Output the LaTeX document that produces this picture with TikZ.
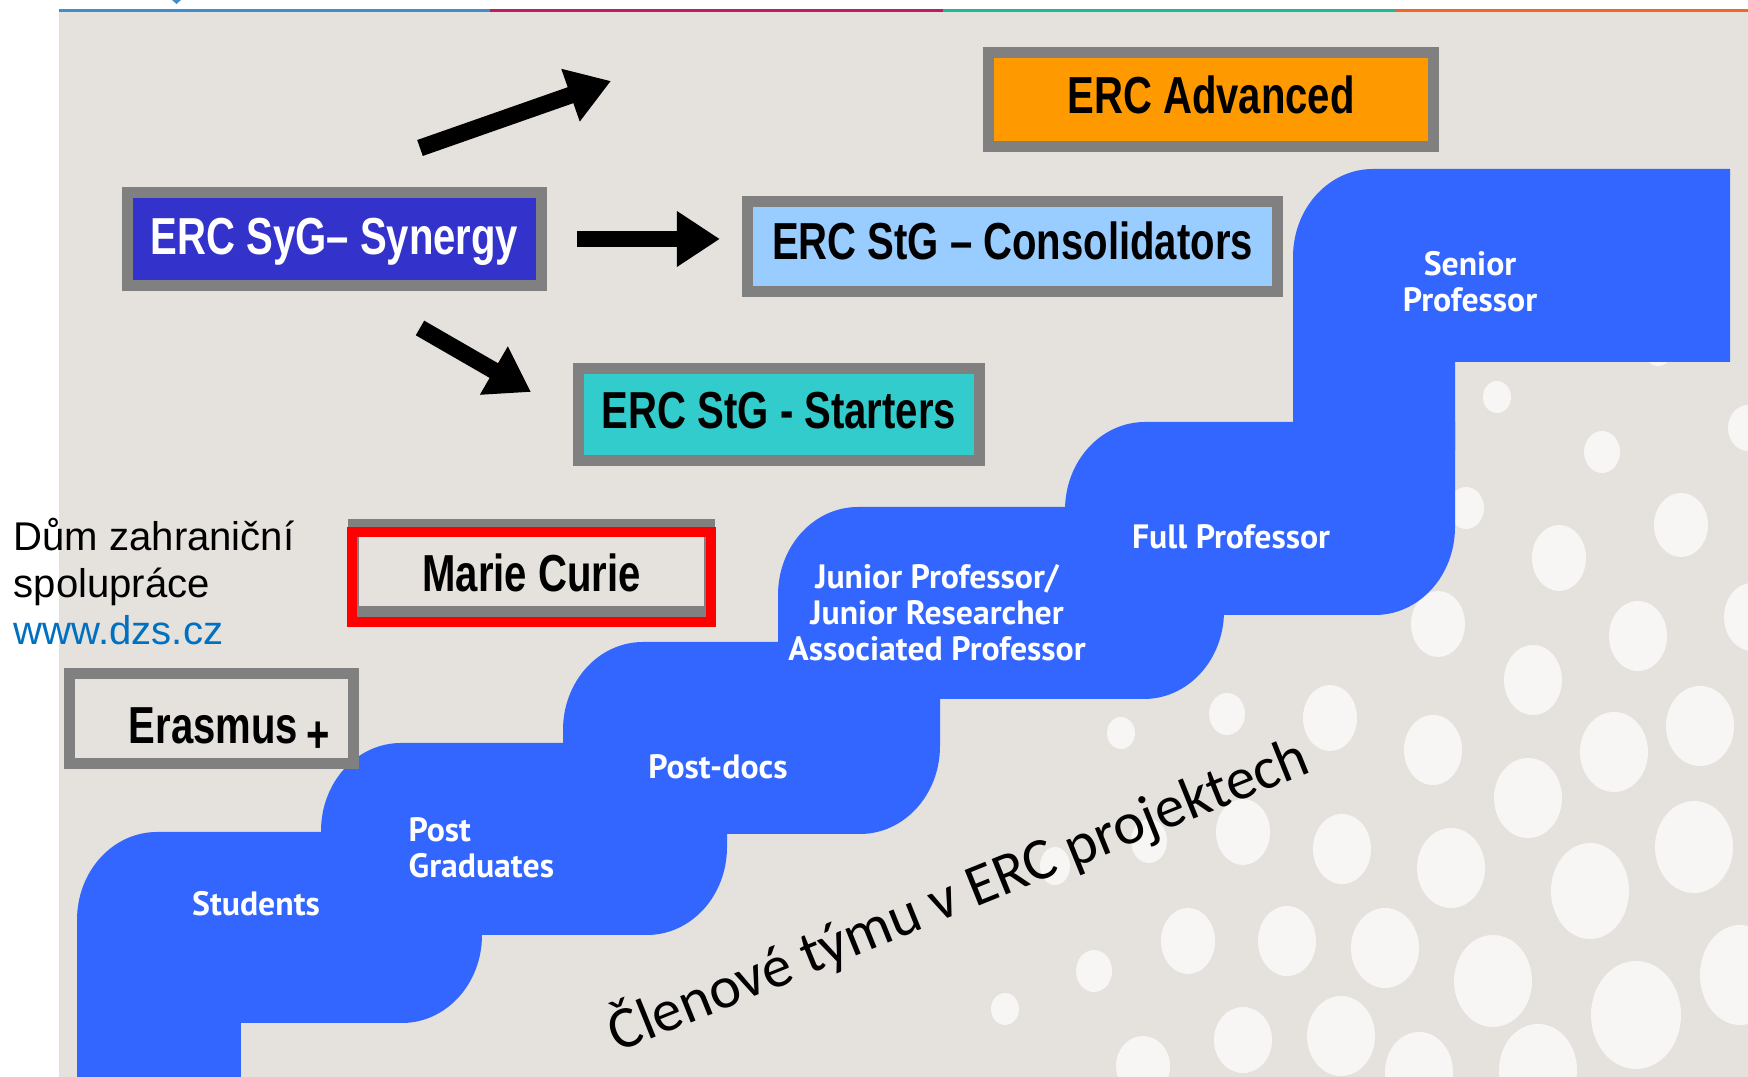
\documentclass[tikz,border=0pt]{standalone}
\usepackage{fontspec}
\setmainfont{Liberation Sans}
\newfontfamily\boxfont[FakeStretch=0.77]{Liberation Sans}
\newfontfamily\stairfont{PT Sans}
\newfontfamily\titlefont{Carlito}
\usetikzlibrary{arrows.meta, positioning, calc}

\definecolor{bggray}{RGB}{229,225,221}
\definecolor{spotwhite}{RGB}{248,246,244}
\definecolor{stairblue}{RGB}{51,102,255}
\definecolor{syngblue}{RGB}{51,51,204}
\definecolor{consblue}{RGB}{153,204,255}
\definecolor{startteal}{RGB}{51,204,204}
\definecolor{advorange}{RGB}{255,153,0}
\definecolor{framegray}{RGB}{128,128,128}
\definecolor{dzsblue}{RGB}{0,112,192}
\definecolor{lineblue}{RGB}{61,142,204}
\definecolor{linered}{RGB}{190,30,95}
\definecolor{lineteal}{RGB}{30,185,150}
\definecolor{lineorange}{RGB}{242,101,34}

\tikzset{
    ercbox/.style={rectangle, draw=framegray, line width=3.1pt, inner sep=0pt, align=center, text depth=0pt, font=\boxfont\bfseries\fontsize{14.8}{17}\selectfont},
    bigarrow/.style={line width=4.8pt, -{Triangle[length=12.2pt, width=15pt]}},
    stair/.style={fill=stairblue},
    stairlabel/.style={text=white, align=center, inner sep=0pt, font=\stairfont\bfseries\fontsize{9.6}{10.2}\selectfont},
    spot/.style={fill=spotwhite},
    redframe/.style={draw=red, line width=2.6pt}
}

\begin{document}
\begin{tikzpicture}[x=0.01cm, y=-0.01cm]
    \useasboundingbox (0,0) rectangle (1748,1077);

    % Background
    \fill[white] (0,0) rectangle (1748,1077);
    \fill[bggray] (59,12) rectangle (1748,1077);
    \draw[line width=0.85pt, lineblue] (59,10.5) -- (490,10.5);
    \draw[line width=0.85pt, linered] (490,10.5) -- (943,10.5);
    \draw[line width=0.85pt, lineteal] (943,10.5) -- (1396,10.5);
    \draw[line width=0.85pt, lineorange] (1396,10.5) -- (1748,10.5);
    \fill[lineblue] (172,0) -- (181,0) -- (176.5,4) -- cycle;

    % Dots
    \foreach \px/\py/\wx/\wy in {1497/397/14/16, 1602/452/18/21, 1748/428/20/23, 1658/348/15/18,
        1466/508/18/21, 1681/525/27/32, 1559/558/27/33, 1438/624/27/33, 1638/636/29/35,
        1752/617/28/34, 1533/680/29/35, 1700/726/34/40, 1227/714/18/21, 1330/718/27/33,
        1121/733/14/16, 1433/750/29/35, 1614/752/34/40, 1528/798/34/40, 1243/832/27/33,
        1342/849/29/35, 1149/841/18/22, 1055/866/15/19, 1188/941/27/33, 1287/941/29/35,
        1094/971/18/21, 1005/1009/14/16, 1451/868/34/40, 1694/847/39/46, 1590/891/39/48,
        1740/975/40/50, 1385/948/34/40, 1493/981/39/46, 1636/1015/45/54, 1243/1040/29/33,
        1341/1036/34/40, 1143/1066/27/30, 1419/1072/34/40, 1538/1070/39/46}
        \fill[spot] (\px,\py) ellipse [x radius=\wx, y radius=\wy];

    % Staircase
    \foreach \xl/\yt/\xr/\yb in {77/832/482/1023, 321/743/727/935, 563/642/940/834,
        778/507/1224/699, 1065/422/1455/615}
        \fill[stair] (\xl,\yb) -- (\xl,\yt+88) .. controls (\xl,\yt+39) and (\xl+36,\yt) .. (\xl+80,\yt)
            -- (\xr,\yt) -- (\xr,\yb-88) .. controls (\xr,\yb-39) and (\xr-36,\yb) .. (\xr-80,\yb) -- cycle;
    \fill[stair] (1293,450) -- (1293,257) .. controls (1293,208) and (1329,169) .. (1373,169)
        -- (1730,169) -- (1730,362) -- (1455,362) -- (1455,450) -- cycle;
    \fill[stair] (77,1000) rectangle (241,1077);

    % Stair labels
    \node (senior) [stairlabel] at (1470,282) {Senior\\Professor};
    \node (full) [stairlabel] at (1231,537) {Full Professor};
    \node (junior) [stairlabel] at (937,613) {Junior Professor/\\Junior Researcher\\Associated Professor};
    \node (postdocs) [stairlabel] at (718,767) {Post-docs};
    \node (postgrad) [stairlabel, align=left, anchor=west] at (408,848) {Post\\Graduates};
    \node (students) [stairlabel] at (256,904) {Students};

    % ERC boxes
    \node (adv) [ercbox, fill=advorange, minimum width=4.45cm, minimum height=0.94cm, text height=8pt] at (1211,99.5) {ERC Advanced};
    \node (syg) [ercbox, fill=syngblue, text=white, minimum width=4.14cm, minimum height=0.93cm, text height=8.6pt] at (334.5,239) {ERC SyG– Synergy};
    \node (cons) [ercbox, fill=consblue, minimum width=5.30cm, minimum height=0.90cm, text height=7.2pt] at (1012.5,246.5) {ERC StG – Consolidators};
    \node (start) [ercbox, fill=startteal, minimum width=4.01cm, minimum height=0.92cm, text height=8pt] at (779,414.5) {ERC StG - Starters};
    \node (mc) [ercbox, fill=bggray, minimum width=3.56cm, minimum height=0.87cm, text height=13.4pt] at (531.5,568) {Marie Curie};
    \node (eras) [ercbox, fill=bggray, minimum width=2.84cm, minimum height=0.90cm, text height=14.3pt] at (211.5,718.5) {\hspace*{0.36cm}Erasmus\,\raisebox{-0.17em}{+}};
    \draw[redframe] ([shift={(4,13)}]mc.north west) rectangle ([shift={(-4,5)}]mc.south east);

    % Arrows
    \coordinate (upTail) at (420,148);
    \coordinate (upTip) at (611,81);
    \coordinate (downTail) at (420,328);
    \coordinate (downTip) at (531,392);
    \draw[bigarrow] (upTail) -- (upTip);
    \draw[bigarrow, shorten <=0.30cm, shorten >=0.22cm] (syg.east) -- (syg.east -| cons.west);
    \draw[bigarrow] (downTail) -- (downTip);

    % Texts
    \node (dzs) [align=left, anchor=base west, inner sep=0pt, font=\fontsize{11.4}{13.5}\selectfont] at (13,645) {Dům zahraniční\\spolupráce\\\textcolor{dzsblue}{www.dzs.cz}};
    \node (title) [rotate=22, font=\titlefont\fontsize{16.9}{20}\selectfont] at (958,894) {Členové týmu v ERC projektech};

\end{tikzpicture}
\end{document}
